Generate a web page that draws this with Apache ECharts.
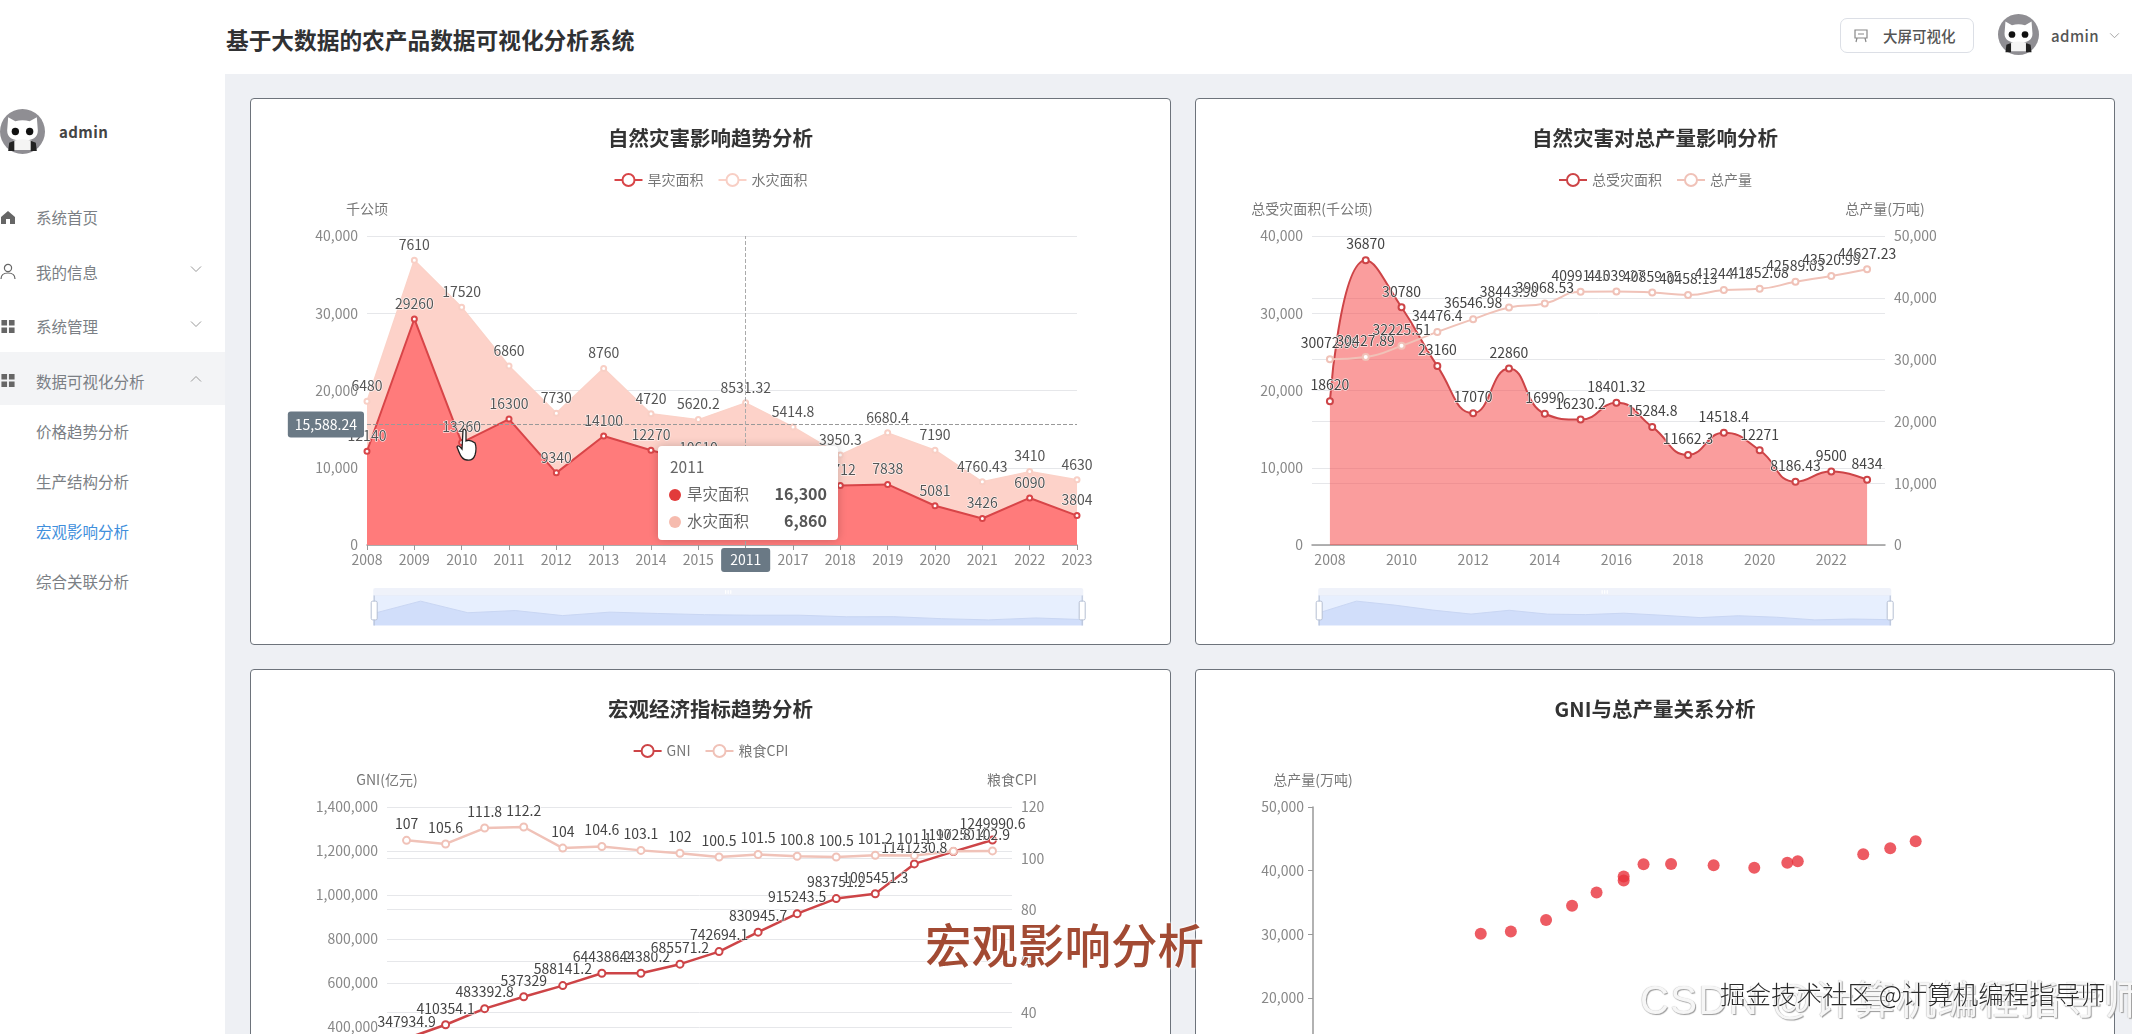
<!DOCTYPE html>
<html lang="zh">
<head>
<meta charset="utf-8">
<title>宏观影响分析</title>
<script src="https://cdn.jsdelivr.net/npm/echarts@6/dist/echarts.min.js"></script>
<style>
  * { box-sizing: border-box; margin: 0; padding: 0; }
  html, body { width: 2132px; height: 1034px; overflow: hidden; background: #fff; font-family: "Noto Sans CJK SC", sans-serif; }
  .main { position: absolute; left: 225px; top: 74px; width: 1907px; height: 960px; background: #eef0f4; }
  .card { position: absolute; background: #fff; border: 1px solid #6d737b; border-radius: 4px; height: 547px; }
  .card > div { position: absolute; left: 0; top: 0; width: 100%; height: 100%; }
  #c1 { left: 250px; top: 98px; width: 921px; }
  #c2 { left: 1195px; top: 98px; width: 920px; }
  #c3 { left: 250px; top: 669px; width: 921px; }
  #c4 { left: 1195px; top: 669px; width: 920px; }
  .apptitle { position: absolute; left: 226px; top: 24px; font-size: 22.7px; line-height: 32px; font-weight: 700; color: #303133; white-space: nowrap; }
  .btn { position: absolute; left: 1840px; top: 18px; width: 134px; height: 35px; border: 1px solid #dcdfe6; border-radius: 7px; font-size: 14.5px; line-height: 33px; font-weight: 500; color: #555; padding-left: 42px; }
  .btn svg { position: absolute; left: 12px; top: 9px; }
  .avatar { position: absolute; }
  .uname { position: absolute; font-size: 15px; line-height: 20px; font-weight: 500; color: #555; letter-spacing: .4px; }
  .side { position: absolute; left: 36px; font-size: 15.5px; line-height: 24px; color: #7b7f85; }
  .active { position: absolute; left: 0; top: 352px; width: 225px; height: 53px; background: #f3f4f6; }
  .ico { position: absolute; left: 0; }
  .tip { position: absolute; left: 658px; top: 446px; width: 180px; height: 94px; background: #fff; border-radius: 4px; box-shadow: 0 0 10px rgba(0,0,0,.2); color: #666; }
  .tip .t { position: absolute; left: 12px; top: 8px; font-size: 15.5px; line-height: 24px; }
  .tip .row { position: absolute; left: 11px; right: 11px; height: 24px; line-height: 24px; font-size: 15.5px; }
  .tip i { display: inline-block; width: 12px; height: 12px; border-radius: 50%; margin-right: 6px; vertical-align: -1px; }
  .tip b { position: absolute; right: 0; color: #555; font-size: 16px; }
  .hand { position: absolute; left: 456px; top: 428px; }
  .mark1 { position: absolute; left: 925px; top: 912px; font-size: 46.5px; line-height: 62px; color: #a24a33; font-weight: 500; text-shadow: 0 0 3px #fff, 0 0 3px #fff; white-space: nowrap; }
  .mark2 { position: absolute; left: 1640px; top: 975px; font-size: 40px; line-height: 50px; color: #f6f6f6; letter-spacing: 1.4px; text-shadow: 1px 1px 1px #9b9b9b, -.5px -.5px 1px #c4c4c4; white-space: nowrap; font-family: "Liberation Sans", "Noto Sans CJK SC", sans-serif; }
  .mark3 { position: absolute; left: 1720px; top: 976px; font-size: 25.5px; line-height: 34px; color: #2b2b2b; font-weight: 300; text-shadow: 0 0 2px #fff, 0 0 2px #fff, 0 0 2px #fff; white-space: nowrap; }
</style>
</head>
<body>
<svg width="0" height="0" style="position:absolute">
  <defs>
    <symbol id="cat" viewBox="0 0 44 44">
      <circle cx="22" cy="22" r="22" fill="#8f8e93"/>
      <path d="M8 8 L15 12 Q22 10 29 12 L36 8 L37 21 Q37 31 22 31 Q7 31 7 21 Z" fill="#fff"/>
      <circle cx="15" cy="22" r="3.6" fill="#111"/><circle cx="29" cy="22" r="3.6" fill="#111"/>
      <path d="M13 31 Q22 28 31 31 L32 40 L12 40 Z" fill="#f4f4f4"/>
      <path d="M9 33 L14 31 L14 41 L8 41 Z M35 33 L30 31 L30 41 L36 41 Z" fill="#222"/>
    </symbol>
    <symbol id="grid4" viewBox="0 0 16 16"><path d="M1 1h6v6H1zM9 1h6v6H9zM1 9h6v6H1zM9 9h6v6H9z" fill="#666"/></symbol>
    <symbol id="chev" viewBox="0 0 12 8"><path d="M1 1.5 L6 6.5 L11 1.5" fill="none" stroke="#999" stroke-width="1"/></symbol>
  </defs>
</svg>

<div class="main"></div>
<div class="apptitle">基于大数据的农产品数据可视化分析系统</div>
<div class="btn"><svg width="16" height="16" viewBox="0 0 16 16"><path d="M2 2h12v8H2zM4 10l-1 4M12 10l1 4M5 6h6" fill="none" stroke="#888" stroke-width="1.2"/></svg>大屏可视化</div>
<svg class="avatar" style="left:1998px;top:14px" width="41" height="41"><use href="#cat"/></svg>
<div class="uname" style="left:2051px;top:26px">admin</div>
<svg class="avatar" style="left:2109px;top:32px" width="11" height="7"><use href="#chev"/></svg>

<div class="active"></div>
<svg class="avatar" style="left:0;top:109px" width="45" height="45"><use href="#cat"/></svg>
<div class="uname" style="left:59px;top:122px;font-weight:700;color:#444">admin</div>

<svg class="ico" style="top:210px" width="16" height="15" viewBox="0 0 16 15"><path d="M8 1 L15 7 V14 H10 V9 H6 V14 H1 V7 Z" fill="#666"/></svg>
<div class="side" style="top:205px">系统首页</div>
<svg class="ico" style="top:263px" width="16" height="17" viewBox="0 0 16 17"><circle cx="8" cy="5" r="3.6" fill="none" stroke="#666" stroke-width="1.2"/><path d="M1 16 Q1 10 8 10 Q15 10 15 16" fill="none" stroke="#666" stroke-width="1.2"/></svg>
<div class="side" style="top:260px">我的信息</div>
<svg class="avatar" style="left:190px;top:265px" width="12" height="8"><use href="#chev"/></svg>
<svg class="ico" style="top:319px" width="16" height="15"><use href="#grid4"/></svg>
<div class="side" style="top:314px">系统管理</div>
<svg class="avatar" style="left:190px;top:320px" width="12" height="8"><use href="#chev"/></svg>
<svg class="ico" style="top:373px" width="16" height="15"><use href="#grid4"/></svg>
<div class="side" style="top:369px">数据可视化分析</div>
<svg class="avatar" style="left:190px;top:375px;transform:scaleY(-1)" width="12" height="8"><use href="#chev"/></svg>
<div class="side" style="top:419px">价格趋势分析</div>
<div class="side" style="top:469px">生产结构分析</div>
<div class="side" style="top:519px;color:#3f8fdc">宏观影响分析</div>
<div class="side" style="top:569px">综合关联分析</div>

<div class="card" id="c1"><div id="chart1"></div></div>
<div class="card" id="c2"><div id="chart2"></div></div>
<div class="card" id="c3"><div id="chart3"></div></div>
<div class="card" id="c4"><div id="chart4"></div></div>

<div class="tip" id="tip"></div>
<svg class="hand" width="22" height="34" viewBox="0 0 22 34"><path d="M7 2 Q9 0 10 3 V13 Q14 11 19 15 Q21 20 19 27 Q17 33 11 32 Q6 32 3 24 L1 19 Q2 16 6 21 Z" fill="#fff" stroke="#222" stroke-width="1.3"/></svg>

<div class="mark2">CSDN @计算机编程指导师</div>
<div class="mark3">掘金技术社区 @计算机编程指导师</div>
<div class="mark1">宏观影响分析</div>

<script>
const years = ['2008','2009','2010','2011','2012','2013','2014','2015','2016','2017','2018','2019','2020','2021','2022','2023'];
const drought = [12140,29260,13260,16300,9340,14100,12270,10610,9870,9870,7712,7838,5081,3426,6090,3804];
const flood = [6480,7610,17520,6860,7730,8760,4720,5620.2,8531.32,5414.8,3950.3,6680.4,7190,4760.43,3410,4630];
const totalDisaster = [18620,36870,30780,23160,17070,22860,16990,16230.2,18401.32,15284.8,11662.3,14518.4,12271,8186.43,9500,8434];
const totalOutput = [30072.96,30427.89,32225.51,34476.4,36546.98,38443.98,39068.53,40991.45,41039.27,40859.35,40458.13,41244.18,41452.08,42589.03,43520.99,44627.23];
const gni = [347934.9,410354.1,483392.8,537329,588141.2,644380.2,644380.2,685571.2,742694.1,830945.7,915243.5,983751.2,1005451.3,1141230.8,1197250.4,1249990.6];
const cpi = [107,105.6,111.8,112.2,104,104.6,103.1,102,100.5,101.5,100.8,100.5,101.2,101.1,102.8,102.9];
const pointerY = 15588.24;
const pointerLabel = '2011';
const pointerIndex = 8;
const tipIndex = 3;

const font = '"Noto Sans CJK SC", sans-serif';
const red = '#c8474a';
const pale = '#f0c2b8';

// 提示框
document.getElementById('tip').innerHTML =
  '<div class="t">' + years[tipIndex] + '</div>' +
  '<div class="row" style="top:35px"><i style="background:#e23b3b"></i>旱灾面积<b>' + drought[tipIndex].toLocaleString('en-US') + '</b></div>' +
  '<div class="row" style="top:62px"><i style="background:#f6bbae"></i>水灾面积<b>' + flood[tipIndex].toLocaleString('en-US') + '</b></div>';

function titleOf(text) {
  return { text: text, left: 'center', top: 24, textStyle: { fontSize: 20.5, fontWeight: 700, color: '#333', fontFamily: font } };
}
function legendOf(names) {
  return {
    data: names, top: 69, left: 'center', itemWidth: 28, itemHeight: 15, itemGap: 14,
    textStyle: { fontSize: 14, color: '#777', fontFamily: font }
  };
}
function zoomOf(width) {
  return {
    type: 'slider', left: 119, width: width, top: 489, height: 30, showDetail: false,
    backgroundColor: '#e9f0fe', fillerColor: 'rgba(225,235,255,0.2)', borderColor: 'transparent',
    dataBackground: { lineStyle: { color: '#c3d1f0', width: 1 }, areaStyle: { color: '#cddbf9', opacity: 1 } },
    selectedDataBackground: { lineStyle: { color: '#c3d1f0', width: 1 }, areaStyle: { color: '#cddbf9', opacity: 1 } },
    moveHandleSize: 8, moveHandleStyle: { color: '#dfe5f5' },
    handleStyle: { color: '#fff', borderColor: '#b5bfd3' }
  };
}
function valueAxis(name, max, interval, split) {
  return {
    type: 'value', name: name, min: 0, max: max, interval: interval, nameGap: 20,
    nameTextStyle: { fontSize: 14, color: '#777', fontFamily: font },
    axisLine: { show: false }, axisTick: { show: false },
    axisLabel: { fontSize: 14, color: '#888', margin: 9, fontFamily: font, formatter: v => v.toLocaleString('en-US') },
    splitLine: { show: split, lineStyle: { color: '#e6e7ea' } }
  };
}
function categoryAxis(boundaryGap, labelInterval) {
  return {
    type: 'category', data: years, boundaryGap: boundaryGap,
    axisLine: { lineStyle: { color: '#999', width: 1.5 } },
    axisTick: { lineStyle: { color: '#999' }, interval: labelInterval },
    axisLabel: { fontSize: 14, color: '#888', interval: labelInterval, fontFamily: font }
  };
}
function labelOf(color) {
  return { show: true, position: 'top', fontSize: 14, color: color, fontFamily: font, textBorderColor: '#fff', textBorderWidth: 1 };
}

// 自然灾害影响趋势
const xAxis1 = categoryAxis(false, 0);
xAxis1.axisPointer = {
  show: true, status: 'show', value: pointerIndex, triggerTooltip: false,
  lineStyle: { color: '#aaa', type: 'dashed' },
  label: { show: true, formatter: () => pointerLabel, backgroundColor: '#6a7985', fontSize: 14, color: '#fff', padding: [5, 9], fontFamily: font }
};
const yAxis1 = valueAxis('千公顷', 40000, 10000, true);
yAxis1.axisPointer = {
  show: true, status: 'show', value: pointerY, triggerTooltip: false,
  lineStyle: { color: '#999', type: 'dashed' },
  label: { show: true, formatter: () => pointerY.toLocaleString('en-US'), backgroundColor: '#6a7985', fontSize: 14, color: '#fff', padding: [6, 7], fontFamily: font }
};
const chart1 = echarts.init(document.getElementById('chart1'));
chart1.setOption({
  animation: false,
  title: titleOf('自然灾害影响趋势分析'),
  legend: legendOf(['旱灾面积', '水灾面积']),
  color: [red, pale],
  grid: { left: 116, top: 137, width: 710, height: 309 },
  xAxis: xAxis1,
  yAxis: yAxis1,
  dataZoom: [zoomOf(710)],
  series: [
    { name: '旱灾面积', type: 'line', stack: 'a', data: drought, symbol: 'emptyCircle', symbolSize: 5,
      lineStyle: { width: 2, color: '#d84548' }, itemStyle: { color: '#d84548' },
      areaStyle: { color: '#ff7b7b', opacity: 1 }, label: labelOf('#555'), z: 3 },
    { name: '水灾面积', type: 'line', stack: 'a', data: flood, symbol: 'emptyCircle', symbolSize: 5,
      lineStyle: { width: 1.5, color: '#fbd2c8' }, itemStyle: { color: '#f8cfc5' },
      areaStyle: { color: '#fdd2c9', opacity: 1 }, label: labelOf('#555'), z: 2 }
  ]
});

// 自然灾害对总产量影响
const chart2 = echarts.init(document.getElementById('chart2'));
chart2.setOption({
  animation: false,
  title: titleOf('自然灾害对总产量影响分析'),
  legend: legendOf(['总受灾面积', '总产量']),
  color: [red, pale],
  grid: { left: 116, top: 137, width: 573, height: 309 },
  xAxis: categoryAxis(true, 1),
  yAxis: [valueAxis('总受灾面积(千公顷)', 40000, 10000, true), valueAxis('总产量(万吨)', 50000, 10000, true)],
  dataZoom: [zoomOf(573)],
  series: [
    { name: '总受灾面积', type: 'line', smooth: true, data: totalDisaster, symbol: 'emptyCircle', symbolSize: 6,
      lineStyle: { width: 2, color: '#cd4447' }, itemStyle: { color: '#cd4447' },
      areaStyle: { color: '#f64c4c', opacity: 0.55 }, label: labelOf('#444') },
    { name: '总产量', type: 'line', smooth: true, yAxisIndex: 1, data: totalOutput, symbol: 'emptyCircle', symbolSize: 6,
      lineStyle: { width: 2, color: pale }, itemStyle: { color: pale }, label: labelOf('#444') }
  ]
});

// 宏观经济指标趋势
const chart3 = echarts.init(document.getElementById('chart3'));
chart3.setOption({
  animation: false,
  title: titleOf('宏观经济指标趋势分析'),
  legend: legendOf(['GNI', '粮食CPI']),
  color: [red, pale],
  grid: { left: 136, top: 137, width: 625, height: 308 },
  xAxis: categoryAxis(true, 0),
  yAxis: [valueAxis('GNI(亿元)', 1400000, 200000, true), valueAxis('粮食CPI', 120, 20, true)],
  series: [
    { name: 'GNI', type: 'line', data: gni, symbol: 'emptyCircle', symbolSize: 7,
      lineStyle: { width: 2.5, color: '#cd4447' }, itemStyle: { color: '#cd4447' }, label: labelOf('#444') },
    { name: '粮食CPI', type: 'line', yAxisIndex: 1, data: cpi, symbol: 'emptyCircle', symbolSize: 7,
      lineStyle: { width: 2.5, color: pale }, itemStyle: { color: pale }, label: labelOf('#444') }
  ]
});

// GNI与总产量关系
const scatterData = gni.map((v, i) => [v, totalOutput[i]]);
const yAxis4 = valueAxis('总产量(万吨)', 50000, 10000, false);
yAxis4.axisLine = { show: true, lineStyle: { color: '#999', width: 1.5 } };
yAxis4.axisTick = { show: true, lineStyle: { color: '#999' } };
const xAxis4 = valueAxis('', 1400000, 200000, false);
xAxis4.axisLine = { show: true, lineStyle: { color: '#999' } };
const chart4 = echarts.init(document.getElementById('chart4'));
chart4.setOption({
  animation: false,
  title: titleOf('GNI与总产量关系分析'),
  grid: { left: 117, top: 137, width: 675, height: 318 },
  xAxis: xAxis4,
  yAxis: yAxis4,
  series: [
    { type: 'scatter', data: scatterData, symbolSize: 12, itemStyle: { color: '#e8323c', opacity: 0.8 } }
  ]
});
</script>
</body>
</html>
